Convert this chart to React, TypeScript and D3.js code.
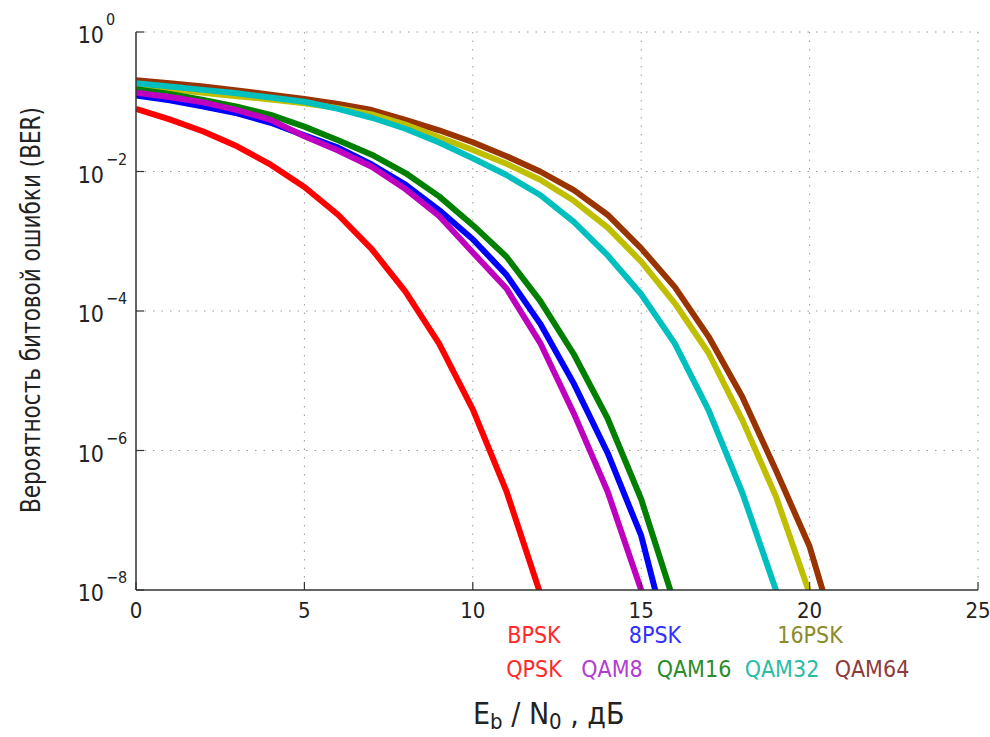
import React from 'react';
import * as d3 from 'd3';

// Eb/N0, dB
const snr = [0, 1, 2, 3, 4, 5, 6, 7, 8, 9, 10, 11, 12, 13, 14, 15, 16, 17, 18, 19, 20, 21];

// BER
const bpsk = [7.9e-2, 5.6e-2, 3.75e-2, 2.3e-2, 1.25e-2, 6.0e-3, 2.4e-3, 7.7e-4, 1.9e-4, 3.4e-5, 3.9e-6, 2.6e-7, 9.0e-9];
const psk8 = [1.23e-1, 1.05e-1, 8.5e-2, 6.8e-2, 5.0e-2, 3.3e-2, 2.2e-2, 1.26e-2, 6.5e-3, 2.8e-3, 1.07e-3, 3.3e-4, 6.6e-5, 9.1e-6, 9.3e-7, 6.0e-8, 8e-10];
const qam8 = [1.35e-1, 1.17e-1, 9.8e-2, 7.6e-2, 5.5e-2, 3.2e-2, 2.0e-2, 1.17e-2, 5.6e-3, 2.3e-3, 6.9e-4, 2.1e-4, 3.5e-5, 3.4e-6, 2.6e-7, 1.0e-8, 2.5e-10];
const qam16 = [1.51e-1, 1.29e-1, 1.06e-1, 8.5e-2, 6.5e-2, 4.4e-2, 2.8e-2, 1.74e-2, 9.5e-3, 4.4e-3, 1.7e-3, 6.0e-4, 1.4e-4, 2.4e-5, 2.9e-6, 2.0e-7, 6.2e-9];
const qam32 = [1.84e-1, 1.66e-1, 1.48e-1, 1.32e-1, 1.15e-1, 1.0e-1, 7.9e-2, 5.9e-2, 4.1e-2, 2.6e-2, 1.55e-2, 8.9e-3, 4.6e-3, 1.9e-3, 6.3e-4, 1.74e-4, 3.4e-5, 3.8e-6, 2.5e-7, 1.0e-8, 2.0e-10];
const psk16 = [1.7e-1, 1.51e-1, 1.35e-1, 1.2e-1, 1.08e-1, 9.5e-2, 8.1e-2, 6.6e-2, 4.7e-2, 3.1e-2, 2.04e-2, 1.29e-2, 7.6e-3, 3.8e-3, 1.58e-3, 5.1e-4, 1.29e-4, 2.5e-5, 2.75e-6, 2.2e-7, 8.9e-9, 1.6e-10];
const qam64 = [2.04e-1, 1.84e-1, 1.66e-1, 1.45e-1, 1.26e-1, 1.1e-1, 9.3e-2, 7.6e-2, 5.5e-2, 3.9e-2, 2.63e-2, 1.66e-2, 1.0e-2, 5.4e-3, 2.4e-3, 7.9e-4, 2.2e-4, 4.3e-5, 5.9e-6, 5.2e-7, 4.2e-8, 1.0e-9];

const xTicks = [0, 5, 10, 15, 20, 25];
const yExps = [0, -2, -4, -6, -8];

// drawing order: back to front
const series = [
  { name: 'QAM64', vals: qam64, color: '#993300' },
  { name: '16PSK', vals: psk16, color: '#bfbf00' },
  { name: 'QAM32', vals: qam32, color: '#00bfbf' },
  { name: 'QAM16', vals: qam16, color: '#007f00' },
  { name: '8PSK', vals: psk8, color: '#0000ff' },
  { name: 'QAM8', vals: qam8, color: '#bf00bf' },
  { name: 'BPSK', vals: bpsk, color: '#ff0000' },
];

// legend: label, colour, x, row
const legend: [string, string, number, number][] = [
  ['BPSK', '#ff2a2a', 534, 0],
  ['8PSK', '#3232ff', 655, 0],
  ['16PSK', '#8c8c2a', 810, 0],
  ['QPSK', '#ff2a2a', 534, 1],
  ['QAM8', '#b43cd2', 612, 1],
  ['QAM16', '#2a8c2a', 694, 1],
  ['QAM32', '#2abca6', 782, 1],
  ['QAM64', '#8c3c3c', 872, 1],
];

const FONT = '"Liberation Sans Narrow", "DejaVu Sans Condensed", sans-serif';

export default function App() {
  const left = 136, right = 978, top = 32, bottom = 590;
  const x = d3.scaleLinear().domain([0, 25]).range([left, right]);
  const y = d3.scaleLog().domain([1e-8, 1]).range([bottom, top]);
  const line = d3.line<number>()
    .x((_, i) => x(snr[i]))
    .y((d) => y(d));

  return (
    <svg width={990} height={737} style={{ position: 'absolute', left: 0, top: 0, background: '#fff' }}
      fontFamily={FONT}>
      <defs>
        <clipPath id="plot">
          <rect x={left} y={top - 5} width={right - left + 5} height={bottom - top + 5} />
        </clipPath>
      </defs>

      {/* grid */}
      {xTicks.filter((t) => t > 0).map((t) => (
        <line key={'gx' + t} x1={x(t)} x2={x(t)} y1={top} y2={bottom}
          stroke="#9a9a9a" strokeWidth={1} strokeDasharray="1.5 7" />
      ))}
      {yExps.filter((e) => e > -8).map((e) => (
        <line key={'gy' + e} x1={left} x2={right} y1={y(Math.pow(10, e))} y2={y(Math.pow(10, e))}
          stroke="#9a9a9a" strokeWidth={1} strokeDasharray="1.5 7" />
      ))}

      {/* curves */}
      <g clipPath="url(#plot)">
        {series.map((s) => (
          <path key={s.name} d={line(s.vals) || ''} fill="none" stroke={s.color}
            strokeWidth={6} strokeLinejoin="round" />
        ))}
      </g>

      {/* axes */}
      <line x1={left} x2={left} y1={top} y2={bottom} stroke="#333" strokeWidth={1.5} />
      <line x1={left} x2={right} y1={bottom} y2={bottom} stroke="#333" strokeWidth={1.5} />
      {xTicks.map((t) => (
        <g key={'tx' + t}>
          <line x1={x(t)} x2={x(t)} y1={bottom} y2={bottom - 8} stroke="#333" strokeWidth={1.2} />
          <text x={x(t)} y={618} textAnchor="middle" fontSize={22} fill="#222">{t}</text>
        </g>
      ))}
      {yExps.map((e) => (
        <g key={'ty' + e}>
          <line x1={left} x2={left + 8} y1={y(Math.pow(10, e))} y2={y(Math.pow(10, e))} stroke="#333" strokeWidth={1.2} />
          <text x={104} y={y(Math.pow(10, e)) + 11} textAnchor="end" fontSize={23} fill="#222">10</text>
          <text x={106} y={y(Math.pow(10, e)) - 7} textAnchor="start" fontSize={16} fill="#222">
            {e === 0 ? '0' : '\u2212' + Math.abs(e)}
          </text>
        </g>
      ))}

      {/* axis titles */}
      <text transform="translate(40,310) rotate(-90)" textAnchor="middle" fontSize={26} fill="#222"
        textLength={406} lengthAdjust="spacingAndGlyphs">
        Вероятность битовой ошибки (BER)
      </text>
      <text x={473} y={724} fontSize={30} fill="#222">
        E<tspan fontSize={22} dy={5}>b</tspan>
        <tspan dy={-5}> / N</tspan>
        <tspan fontSize={22} dy={5}>0</tspan>
        <tspan dy={-5}> , дБ</tspan>
      </text>

      {/* legend */}
      {legend.map(([name, color, lx, row]) => (
        <text key={name} x={lx} y={row === 0 ? 643 : 677} textAnchor="middle" fontSize={23} fill={color}>
          {name}
        </text>
      ))}
    </svg>
  );
}
